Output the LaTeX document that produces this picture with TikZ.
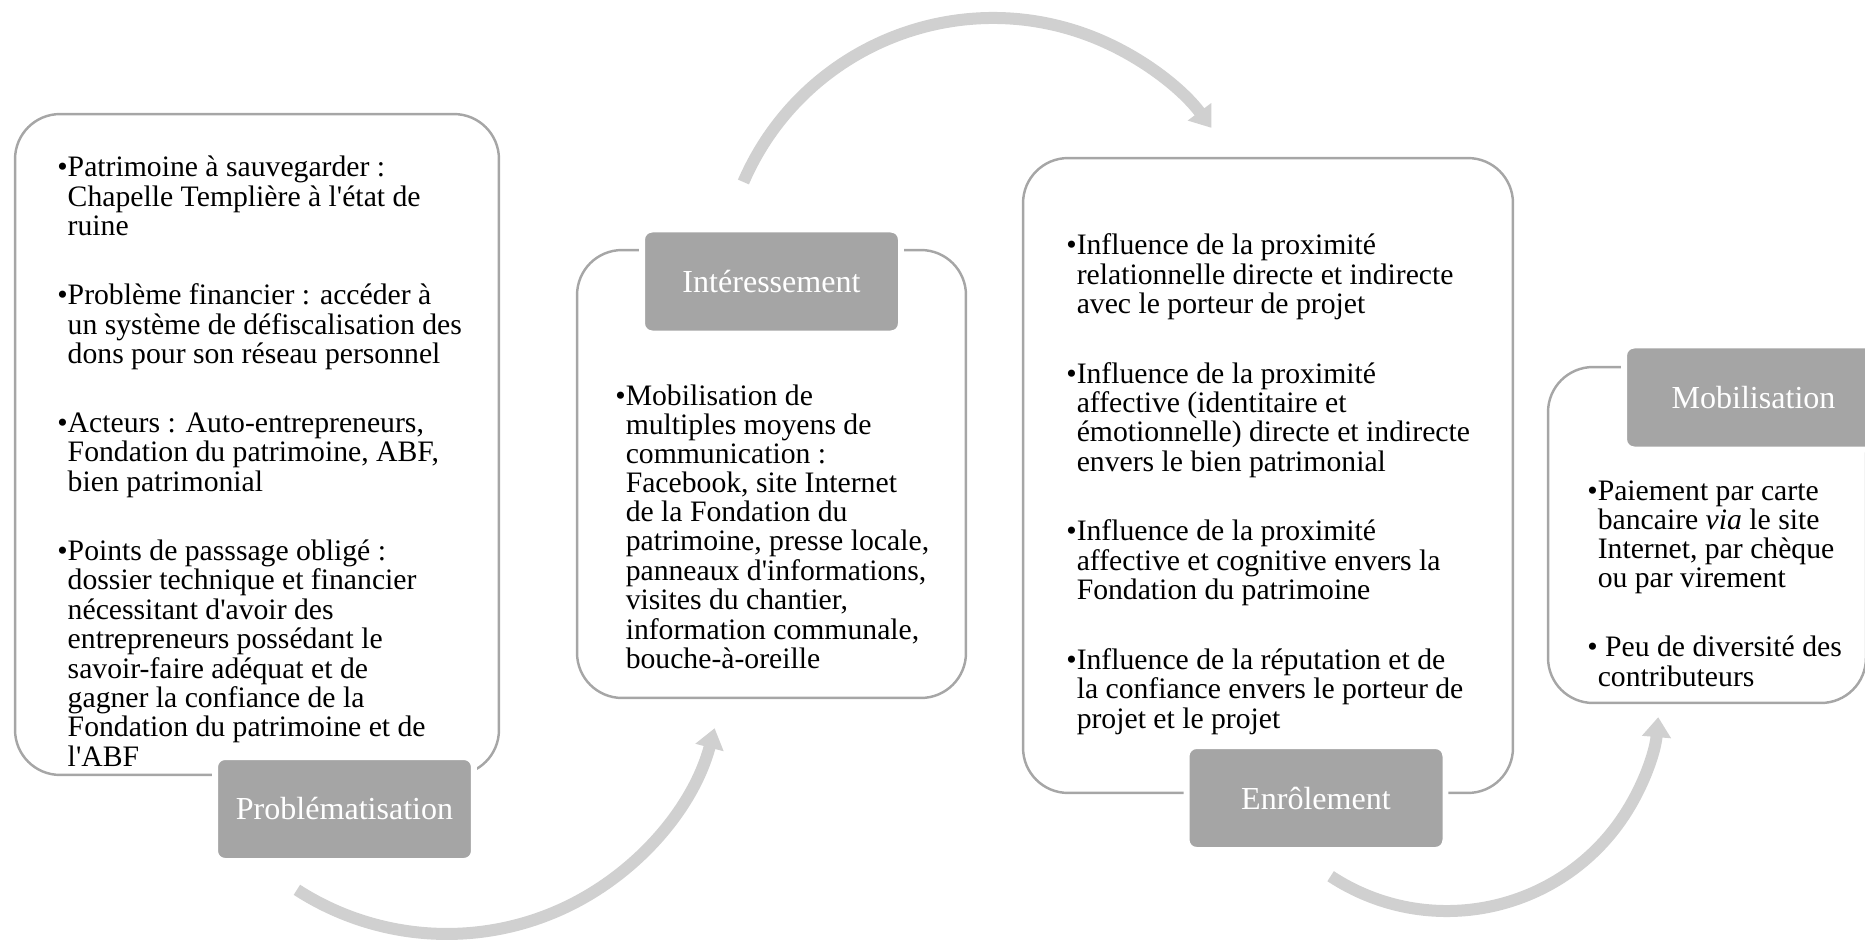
\documentclass[tikz,border=0pt]{standalone}
\usepackage{fontspec}
\setmainfont{Liberation Serif}[Ligatures=TeXOff]
\usetikzlibrary{arrows.meta}

\definecolor{grisbord}{HTML}{A6A6A6}
\definecolor{grisetiq}{HTML}{A5A5A5}
\definecolor{grisfleche}{HTML}{D0D0D0}

\tikzset{
  boite/.style={draw=grisbord, line width=1.4pt, rounded corners=0.9cm, inner sep=0pt},
  etiquette/.style={fill=grisetiq, draw=white, line width=3.4pt, rounded corners=0.2cm,
    minimum width=5.18cm, minimum height=2.08cm, inner sep=0pt, text=white,
    font=\fontsize{18.25}{20}\selectfont},
  texte/.style={anchor=base west, inner sep=0pt, font=\fontsize{16.9}{16.44}\selectfont},
  fleche/.style={grisfleche, line width=0.24cm, -{Triangle[length=0.4cm,width=0.56cm]}}
}

\begin{document}
\begin{tikzpicture}[x=0.02cm, y=0.02cm]
  \useasboundingbox (0,0) rectangle (1865,941);

  % cadres
  \node[boite, minimum width=9.68cm, minimum height=13.22cm] (cadre1) at (257,496.5) {};
  \node[boite, minimum width=7.78cm, minimum height=8.96cm] (cadre2) at (771.5,467) {};
  \node[boite, minimum width=9.8cm, minimum height=12.7cm] (cadre3) at (1268,465.5) {};
  \node[boite, minimum width=6.36cm, minimum height=6.72cm] (cadre4) at (1707,406) {};

  % textes
  \node[texte] (texte1) at (57,764) {\begin{tabular}[t]{@{}l@{}l@{}}
    \textbullet & Patrimoine à sauvegarder :\\
      & Chapelle Templière à l'état de\\
      & ruine\\[0.8cm]
    \textbullet & Problème financier : accéder à\\
      & un système de défiscalisation des\\
      & dons pour son réseau personnel\\[0.8cm]
    \textbullet & Acteurs : Auto-entrepreneurs,\\
      & Fondation du patrimoine, ABF,\\
      & bien patrimonial\\[0.8cm]
    \textbullet & Points de passsage obligé :\\
      & dossier technique et financier\\
      & nécessitant d'avoir des\\
      & entrepreneurs possédant le\\
      & savoir-faire adéquat et de\\
      & gagner la confiance de la\\
      & Fondation du patrimoine et de\\
      & l'ABF
  \end{tabular}};
  \node[texte] (texte2) at (615,536) {\begin{tabular}[t]{@{}l@{}l@{}}
    \textbullet & Mobilisation de\\
      & multiples moyens de\\
      & communication :\\
      & Facebook, site Internet\\
      & de la Fondation du\\
      & patrimoine, presse locale,\\
      & panneaux d'informations,\\
      & visites du chantier,\\
      & information communale,\\
      & bouche-à-oreille
  \end{tabular}};
  \node[texte] (texte3) at (1066,686) {\begin{tabular}[t]{@{}l@{}l@{}}
    \textbullet & Influence de la proximité\\
      & relationnelle directe et indirecte\\
      & avec le porteur de projet\\[0.8cm]
    \textbullet & Influence de la proximité\\
      & affective (identitaire et\\
      & émotionnelle) directe et indirecte\\
      & envers le bien patrimonial\\[0.8cm]
    \textbullet & Influence de la proximité\\
      & affective et cognitive envers la\\
      & Fondation du patrimoine\\[0.8cm]
    \textbullet & Influence de la réputation et de\\
      & la confiance envers le porteur de\\
      & projet et le projet
  \end{tabular}};
  \node[texte] (texte4) at (1587,441) {\begin{tabular}[t]{@{}l@{}l@{}}
    \textbullet & Paiement par carte\\
      & bancaire \textit{via} le site\\
      & Internet, par chèque\\
      & ou par virement\\[0.8cm]
    \textbullet & \ Peu de diversité des\\
      & contributeurs
  \end{tabular}};

  % etiquettes
  \node[etiquette] (etiq1) at (344.5,132) {Problématisation};
  \node[etiquette] (etiq2) at (771.5,659.5) {Intéressement};
  \node[etiquette] (etiq3) at (1316,143) {Enrôlement};
  \node[etiquette] (etiq4) at (1753.5,543.5) {Mobilisation};

  % fleches du cycle
  \coordinate (depart1) at (296.9,51.2);
  \coordinate (depart2) at (743.4,759);
  \coordinate (depart3) at (1330.6,64.8);
  \draw[fleche] (depart1) arc[start angle=237.2, end angle=345.1, radius=277];
  \draw[fleche] (depart2) arc[start angle=156.6, end angle=36.6, radius=272];
  \draw[fleche] (depart3) arc[start angle=236.7, end angle=355.1, radius=212];
\end{tikzpicture}
\end{document}
